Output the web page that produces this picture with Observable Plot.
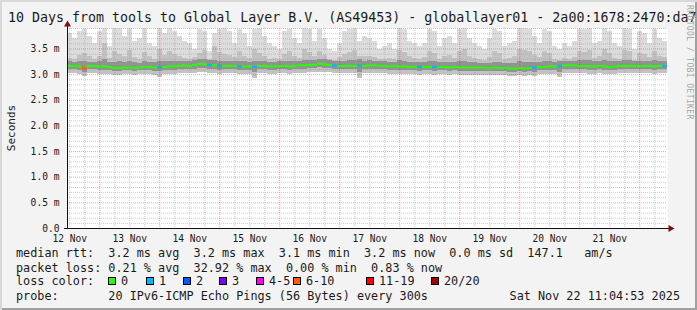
<!DOCTYPE html>
<html><head><meta charset="utf-8">
<script src="https://cdn.jsdelivr.net/npm/d3@7"></script>
<script src="https://cdn.jsdelivr.net/npm/@observablehq/plot@0.6"></script>
<style>
html,body{margin:0;padding:0;background:#fff;}
#wrap{position:relative;width:697px;height:310px;background:#f3f3f3;overflow:hidden;
  box-shadow: inset 2px 2px 0 #d8d8d8, inset -2px -2px 0 #a0a0a0;
  font-family:"DejaVu Sans Mono",monospace;color:#1a1a1a;}
#wrap svg{position:absolute;left:0;top:0;}
.t{position:absolute;white-space:pre;line-height:14px;}
.title{font-size:13.3px;left:8px;top:8px;line-height:20px;}
.leg{font-size:11.8px;left:16px;}
.sq{position:absolute;width:6px;height:6px;border:1px solid #000;top:277px;}
.lab{position:absolute;font-size:11.8px;top:274px;white-space:pre;line-height:14px;}
.ylab{position:absolute;font-size:11px;left:11px;top:128px;transform:translate(-50%,-50%) rotate(-90deg);white-space:pre;}
.rrd{position:absolute;font-size:8px;color:#a4a4a4;left:684px;top:5px;writing-mode:vertical-rl;white-space:pre;letter-spacing:0.4px;line-height:10px;}
</style>
</head><body>
<div id="wrap"></div>
<script>
// ---- time range (UTC) ----
const timeRange = [Date.UTC(2025,10,12,11,4,53), Date.UTC(2025,10,22,11,4,53)];
const bucketHours = 2;

// ---- axis ticks ----
const yTicks = [0, 0.5, 1.0, 1.5, 2.0, 2.5, 3.0, 3.5];
const yTickLabels = ["0.0", "0.5 m", "1.0 m", "1.5 m", "2.0 m", "2.5 m", "3.0 m", "3.5 m"];
const dayLabels = ["12 Nov","13 Nov","14 Nov","15 Nov","16 Nov","17 Nov","18 Nov","19 Nov","20 Nov","21 Nov"];
const yMax = 3.9;

// ---- loss legend ----
const lossLabels = ["0","1","2","3","4-5","6-10","11-19","20/20"];
const lossColors = ["#26ff00","#00b8ff","#0059ff","#7e00ff","#ff00ea","#ff5e00","#ff0000","#a10000"];

// ---- series (ms), one value per 2-hour bucket ----
const median = [
3.17,3.17,3.16,3.12,3.17,3.17,3.16,3.16,3.15,3.13,3.13,3.14,3.14,3.13,3.14,3.15,3.15,3.14,3.14,3.15,
3.16,3.16,3.17,3.18,3.17,3.19,3.21,3.20,3.19,3.18,3.17,3.17,3.17,3.17,3.16,3.16,3.16,3.15,3.17,3.17,
3.16,3.16,3.17,3.17,3.16,3.17,3.18,3.18,3.19,3.19,3.21,3.20,3.19,3.18,3.17,3.17,3.17,3.17,3.18,3.17,
3.18,3.18,3.17,3.17,3.16,3.16,3.16,3.16,3.15,3.15,3.15,3.15,3.15,3.15,3.15,3.15,3.14,3.15,3.14,3.14,
3.14,3.14,3.14,3.14,3.13,3.14,3.13,3.13,3.12,3.12,3.13,3.12,3.13,3.14,3.15,3.15,3.16,3.16,3.17,3.18,
3.18,3.18,3.17,3.17,3.16,3.16,3.17,3.16,3.15,3.16,3.17,3.17,3.17,3.17,3.17,3.17,3.17,3.16,3.17,3.17];
const lossCount = [
0,0,0,7,0,0,0,0,0,0,0,0,0,0,0,0,0,0,1,0,
0,0,0,0,0,0,0,0,1,0,1,0,0,0,1,0,0,1,0,0,
0,0,0,0,0,0,0,0,0,0,0,0,0,1,0,0,0,0,1,0,
0,0,0,0,0,0,0,0,0,0,1,0,0,1,0,0,0,0,0,0,
0,0,0,0,0,0,0,0,0,0,0,0,0,1,0,0,0,0,1,0,
0,0,0,0,0,0,0,0,0,0,0,0,0,0,0,0,0,0,0,1];
const smokeMax = [
3.80,3.70,3.85,3.88,3.75,3.60,3.85,3.90,3.55,3.90,3.90,3.75,3.90,3.65,3.70,3.90,3.60,3.55,3.90,3.80,
3.90,3.85,3.75,3.65,3.60,3.50,3.88,3.85,3.45,3.80,3.88,3.90,3.85,3.60,3.88,3.80,3.55,3.88,3.90,3.75,
3.60,3.55,3.50,3.85,3.88,3.70,3.60,3.90,3.88,3.65,3.88,3.70,3.50,3.45,3.60,3.85,3.88,3.90,3.65,3.75,
3.70,3.65,3.50,3.55,3.60,3.50,3.90,3.88,3.65,3.60,3.55,3.60,3.88,3.85,3.55,3.70,3.75,3.60,3.88,3.90,
3.70,3.60,3.55,3.50,3.70,3.88,3.85,3.55,3.60,3.65,3.90,3.90,3.88,3.75,3.60,3.88,3.85,3.55,3.50,3.60,
3.55,3.65,3.88,3.88,3.90,3.60,3.65,3.90,3.85,3.60,3.55,3.90,3.88,3.50,3.85,3.80,3.60,3.88,3.70,3.65];
const smokeHigh = [
3.32,3.30,3.38,3.42,3.35,3.30,3.36,3.60,3.32,3.45,3.40,3.35,3.48,3.33,3.30,3.44,3.35,3.30,3.50,3.38,
3.45,3.40,3.35,3.32,3.30,3.34,3.42,3.48,3.30,3.55,3.44,3.40,3.38,3.33,3.45,3.36,3.32,3.50,3.42,3.35,
3.30,3.32,3.30,3.40,3.45,3.35,3.32,3.50,3.44,3.35,3.46,3.38,3.30,3.28,3.33,3.40,3.44,3.48,3.35,3.36,
3.35,3.33,3.30,3.30,3.32,3.30,3.48,3.44,3.35,3.32,3.30,3.33,3.45,3.42,3.30,3.36,3.38,3.32,3.46,3.50,
3.35,3.32,3.30,3.28,3.33,3.45,3.42,3.30,3.32,3.35,3.50,3.48,3.45,3.38,3.33,3.46,3.42,3.30,3.28,3.32,
3.30,3.33,3.45,3.44,3.48,3.32,3.35,3.50,3.42,3.32,3.30,3.48,3.45,3.28,3.42,3.40,3.33,3.45,3.36,3.34];
const smokeUpper = [
3.25,3.24,3.26,3.25,3.24,3.23,3.25,3.30,3.24,3.24,3.25,3.23,3.26,3.23,3.22,3.25,3.24,3.23,3.26,3.25,
3.26,3.25,3.25,3.26,3.25,3.27,3.30,3.29,3.27,3.28,3.26,3.26,3.25,3.25,3.26,3.25,3.24,3.26,3.26,3.25,
3.24,3.24,3.25,3.26,3.26,3.25,3.26,3.28,3.28,3.27,3.30,3.29,3.27,3.26,3.25,3.26,3.27,3.28,3.30,3.26,
3.27,3.26,3.25,3.25,3.24,3.24,3.27,3.26,3.24,3.24,3.24,3.24,3.26,3.26,3.23,3.24,3.24,3.23,3.25,3.26,
3.23,3.23,3.22,3.22,3.22,3.24,3.24,3.22,3.21,3.22,3.25,3.24,3.24,3.23,3.24,3.26,3.26,3.24,3.25,3.26,
3.26,3.26,3.27,3.27,3.27,3.25,3.26,3.28,3.26,3.25,3.25,3.27,3.27,3.25,3.26,3.26,3.25,3.27,3.26,3.25];
const smokeLower = [
3.10,3.10,3.09,3.05,3.10,3.10,3.09,3.09,3.08,3.07,3.07,3.08,3.08,3.07,3.08,3.08,3.08,3.07,3.06,3.08,
3.09,3.09,3.10,3.10,3.10,3.11,3.12,3.12,3.11,3.10,3.09,3.10,3.10,3.10,3.08,3.09,3.09,3.04,3.10,3.10,
3.09,3.09,3.10,3.10,3.09,3.10,3.11,3.11,3.12,3.12,3.13,3.12,3.12,3.10,3.10,3.10,3.10,3.10,3.05,3.10,
3.11,3.11,3.10,3.10,3.09,3.09,3.09,3.09,3.08,3.08,3.07,3.08,3.08,3.07,3.08,3.08,3.07,3.08,3.07,3.07,
3.07,3.07,3.07,3.07,3.06,3.07,3.06,3.06,3.05,3.05,3.06,3.05,3.06,3.05,3.08,3.08,3.09,3.08,3.05,3.10,
3.11,3.11,3.10,3.10,3.09,3.09,3.10,3.09,3.08,3.09,3.10,3.10,3.10,3.10,3.10,3.10,3.10,3.09,3.10,3.10];
const smokeMin = [
3.02,3.02,3.01,2.96,3.02,3.02,3.01,3.01,3.00,2.99,2.99,3.00,3.00,2.99,3.00,3.00,3.00,2.99,2.95,3.00,
3.01,3.01,3.02,3.02,3.02,3.03,3.04,3.04,3.03,3.02,3.01,3.02,3.02,3.02,3.00,3.01,3.01,2.92,3.02,3.02,
3.01,3.01,3.02,3.02,3.01,3.02,3.03,3.03,3.04,3.04,3.05,3.04,3.04,3.02,3.02,3.02,3.02,3.02,2.93,3.02,
3.03,3.03,3.02,3.02,3.01,3.01,3.01,3.01,3.00,3.00,2.99,3.00,3.00,2.99,3.00,3.00,2.99,3.00,2.99,2.99,
2.99,2.99,2.99,2.99,2.98,2.99,2.98,2.98,2.97,2.97,2.98,2.97,2.98,2.96,3.00,3.00,3.01,3.00,2.95,3.02,
3.03,3.03,3.02,3.02,3.01,3.01,3.02,3.01,3.00,3.01,3.02,3.02,3.02,3.02,3.02,3.02,3.02,3.01,3.02,3.02];

// ---- text ----
const titleText = "10 Days from tools to Global Layer B.V. (AS49453) - globallayer01 - 2a00:1678:2470:da7";
const legendLines = [
  "median rtt:  3.2 ms avg  3.2 ms max  3.1 ms min  3.2 ms now  0.0 ms sd  147.1   am/s",
  "packet loss: 0.21 % avg  32.92 % max  0.00 % min  0.83 % now"
];
const probeText = "probe:       20 IPv6-ICMP Echo Pings (56 Bytes) every 300s";
const stampText = "Sat Nov 22 11:04:53 2025";

// ---- build tables ----
const stepMs = bucketHours * 3600e3;
const lossIndex = c => c === 0 ? 0 : c === 1 ? 1 : c === 2 ? 2 : c === 3 ? 3 : c <= 5 ? 4 : c <= 10 ? 5 : c <= 19 ? 6 : 7;
const buckets = median.map((m, i) => ({
  t0: new Date(timeRange[0] + i * stepMs),
  t1: new Date(timeRange[0] + (i + 1) * stepMs),
  med: m, prev: i > 0 ? median[i - 1] : m,
  color: lossColors[lossIndex(lossCount[i])],
  mx: smokeMax[i], hi: smokeHigh[i], up: smokeUpper[i], lw: smokeLower[i], mn: smokeMin[i]
}));
const start = new Date(timeRange[0]), end = new Date(timeRange[1]);
const hours6 = d3.utcHour.every(6).range(start, end);
const midnights = hours6.filter(d => d.getUTCHours() === 0);
const sixes = hours6.filter(d => d.getUTCHours() !== 0);
const noons = dayLabels.map((_, i) => new Date(Date.UTC(2025, 10, 12 + i, 12)));
const dayMap = new Map(noons.map((d, i) => [+d, dayLabels[i]]));
const yMap = new Map(yTicks.map((d, i) => [d, yTickLabels[i]]));
const minorY = d3.range(1, 40).map(i => i / 10).filter(v => Math.abs(v * 2 - Math.round(v * 2)) > 1e-6);
const majorY = yTicks.filter(v => v > 0);

const axisCol = "#111";
const arrowCol = "#7a1010";

const chart = Plot.plot({
  width: 697, height: 310,
  marginLeft: 67, marginRight: 30, marginTop: 28, marginBottom: 82,
  style: {background: "transparent", fontFamily: "DejaVu Sans Mono, monospace", fontSize: "9.6px", color: "#1a1a1a", overflow: "visible"},
  x: {type: "utc", domain: [start, end]},
  y: {domain: [0, yMax]},
  color: {type: "identity"},
  marks: [
    Plot.frame({fill: "white", stroke: null}),
    // smoke
    Plot.rect(buckets, {x1: "t0", x2: "t1", y1: "mn", y2: "mx", fill: "#dcdcdc", shapeRendering: "crispEdges"}),
    Plot.rect(buckets, {x1: "t0", x2: "t1", y1: "mn", y2: "hi", fill: "#c2c2c2", shapeRendering: "crispEdges"}),
    Plot.rect(buckets, {x1: "t0", x2: "t1", y1: "lw", y2: "up", fill: "#929292", shapeRendering: "crispEdges"}),
    // grid
    Plot.ruleY(minorY, {stroke: "#9a9a9a", strokeOpacity: 0.5, strokeDasharray: "1,1"}),
    Plot.ruleX(sixes, {stroke: "#9a9a9a", strokeOpacity: 0.5, strokeDasharray: "1,1"}),
    Plot.ruleY(majorY, {stroke: "#ff2020", strokeOpacity: 0.45, strokeDasharray: "1,1"}),
    Plot.ruleX(midnights, {stroke: "#ff2020", strokeOpacity: 0.45, strokeDasharray: "1,1"}),
    // median
    Plot.ruleX(buckets.slice(1), {x: "t0", y1: "prev", y2: "med", stroke: "color", strokeWidth: 2}),
    Plot.ruleY(buckets, {x1: "t0", x2: "t1", y: "med", stroke: "color", strokeWidth: 2}),
    // axes
    Plot.axisY({ticks: yTicks, tickFormat: d => yMap.get(d), tickSize: 0, tickPadding: 8, fill: "#1a1a1a"}),
    Plot.axisX({ticks: noons, tickFormat: d => dayMap.get(+d), tickSize: 0, tickPadding: 7, fill: "#1a1a1a"}),
    Plot.ruleY([{v: 0}], {y: "v", stroke: axisCol, insetLeft: -3, insetRight: -4}),
    Plot.ruleX([{t: start}], {x: "t", stroke: axisCol, insetTop: -5}),
    Plot.dot([{t: end, v: 0}], {x: "t", y: "v", symbol: "triangle", r: 2.6, fill: arrowCol, stroke: null, rotate: 90, dx: 3}),
    Plot.dot([{t: start, v: yMax}], {x: "t", y: "v", symbol: "triangle", r: 2.6, fill: arrowCol, stroke: null, dy: -4})
  ]
});

const wrap = document.getElementById("wrap");
wrap.appendChild(chart);

function addDiv(cls, text, css) {
  const d = document.createElement("div");
  d.className = cls; d.textContent = text;
  Object.assign(d.style, css || {});
  wrap.appendChild(d);
  return d;
}
addDiv("t title", titleText);
addDiv("ylab", "Seconds");
addDiv("rrd", "RRDTOOL / TOBI OETIKER");
addDiv("t leg", legendLines[0], {top: "246px"});
addDiv("t leg", legendLines[1], {top: "261px"});
addDiv("t leg", "loss color:", {top: "274px"});
addDiv("t leg", probeText, {top: "289px"});
addDiv("t leg", stampText, {top: "289px", left: "auto", right: "17px"});
const sqX = [108, 146, 183, 219, 256, 293, 366, 431];
lossLabels.forEach((lab, i) => {
  addDiv("sq", "", {left: sqX[i] + "px", background: lossColors[i]});
  addDiv("lab", lab, {left: (sqX[i] + 13) + "px"});
});
</script>
</body></html>
